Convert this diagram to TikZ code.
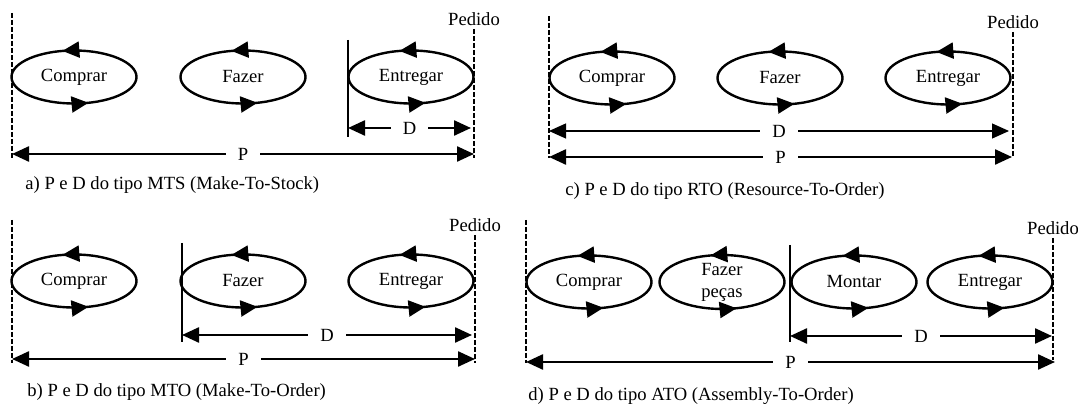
\documentclass[tikz,border=0pt]{standalone}
\usepackage{fontspec}
\setmainfont{Liberation Serif}
\usepackage{tikz}
\usetikzlibrary{arrows.meta, shapes.geometric, decorations.markings}
\tikzstyle{process}  = [ellipse, draw, line width=1.2pt, minimum width=62.5pt, minimum height=26.5pt, inner sep=0pt, align=center,
                        postaction={decorate},
                        decoration={markings,
                          mark=at position 0.29 with {\arrow{Triangle[length=8.5pt,width=8pt]}},
                          mark=at position 0.80 with {\arrow{Triangle[length=8.5pt,width=8pt]}}}]
\tikzstyle{horizon}  = [line width=1pt, dash pattern=on 2.5pt off 1pt]
\tikzstyle{cut}      = [line width=0.6pt]
\tikzstyle{leadtime} = [line width=1.2pt, {Triangle[length=8.5pt,width=7.5pt]}-{Triangle[length=8.5pt,width=7.5pt]}]
\tikzstyle{thinlead} = [line width=0.6pt, {Triangle[length=8.5pt,width=7.5pt]}-{Triangle[length=8.5pt,width=7.5pt]}]
\tikzstyle{lbl}      = [fill=white, inner xsep=6pt, inner ysep=1pt]
\tikzstyle{pedido}   = [anchor=south, inner sep=1.5pt]
\tikzstyle{caption}  = [anchor=west, inner sep=0pt]

\begin{document}
\begin{tikzpicture}[x=0.5pt, y=-0.5pt, font=\fontsize{9.3}{11}\selectfont]

\useasboundingbox (0,0) rectangle (1078,405);

% a) MTS
\coordinate (aL1) at (12,13);   \coordinate (aL2) at (12,158);
\coordinate (aR1) at (474,29);  \coordinate (aR2) at (474,158);
\draw[horizon] (aL1) -- (aL2);
\draw[horizon] (aR1) -- (aR2);
\node[pedido] (aPed) at (aR1) {Pedido};

\node[process] (aC) at (74,77)  {Comprar};
\node[process] (aF) at (243,77) {Fazer};
\node[process] (aE) at (411,77) {Entregar};

\coordinate (aS1) at (348,40);  \coordinate (aS2) at (348,137);
\draw[cut] (aS1) -- (aS2);

\coordinate (aDl) at (348,128); \coordinate (aDr) at (471,128);
\draw[leadtime] (aDl) -- (aDr) node[lbl,midway] (aD) {D};
\coordinate (aPl) at (12,154);  \coordinate (aPr) at (474,154);
\draw[leadtime] (aPl) -- (aPr) node[lbl,midway] (aP) {P};

\node[caption] (aCap) at (25,185) {a) P e D do tipo MTS (Make-To-Stock)};

% c) RTO
\coordinate (cL1) at (549,16);  \coordinate (cL2) at (549,158);
\coordinate (cR1) at (1013,32); \coordinate (cR2) at (1013,158);
\draw[horizon] (cL1) -- (cL2);
\draw[horizon] (cR1) -- (cR2);
\node[pedido] (cPed) at (cR1) {Pedido};

\node[process] (cC) at (612,78) {Comprar};
\node[process] (cF) at (780,78) {Fazer};
\node[process] (cE) at (948,78) {Entregar};

\coordinate (cDl) at (549,131); \coordinate (cDr) at (1009,131);
\draw[thinlead] (cDl) -- (cDr) node[lbl,midway] (cD) {D};
\coordinate (cPl) at (549,157); \coordinate (cPr) at (1012,157);
\draw[leadtime] (cPl) -- (cPr) node[lbl,midway] (cP) {P};

\node[caption] (cCap) at (565,191) {c) P e D do tipo RTO (Resource-To-Order)};

% b) MTO
\coordinate (bL1) at (12,220);  \coordinate (bL2) at (12,363);
\coordinate (bR1) at (475,235); \coordinate (bR2) at (475,363);
\draw[horizon] (bL1) -- (bL2);
\draw[horizon] (bR1) -- (bR2);
\node[pedido] (bPed) at (bR1) {Pedido};

\node[process] (bC) at (74,281)  {Comprar};
\node[process] (bF) at (243,281) {Fazer};
\node[process] (bE) at (411,281) {Entregar};

\coordinate (bS1) at (182,243); \coordinate (bS2) at (182,342);
\draw[cut] (bS1) -- (bS2);

\coordinate (bDl) at (182,335); \coordinate (bDr) at (472,335);
\draw[leadtime] (bDl) -- (bDr) node[lbl,midway] (bD) {D};
\coordinate (bPl) at (12,359);  \coordinate (bPr) at (475,359);
\draw[leadtime] (bPl) -- (bPr) node[lbl,midway] (bP) {P};

\node[caption] (bCap) at (27,392) {b) P e D do tipo MTO (Make-To-Order)};

% d) ATO
\coordinate (dL1) at (526,220);  \coordinate (dL2) at (526,363);
\coordinate (dR1) at (1053,238); \coordinate (dR2) at (1053,360);
\draw[horizon] (dL1) -- (dL2);
\draw[horizon] (dR1) -- (dR2);
\node[pedido] (dPed) at (dR1) {Pedido};

\node[process] (dC) at (589,282) {Comprar};
\node[process] (dF) at (722,282) {Fazer\\peças};
\node[process] (dM) at (854,282) {Montar};
\node[process] (dE) at (990,282) {Entregar};

\coordinate (dS1) at (790,245); \coordinate (dS2) at (790,342);
\draw[cut] (dS1) -- (dS2);

\coordinate (dDl) at (790,336); \coordinate (dDr) at (1052,336);
\draw[leadtime] (dDl) -- (dDr) node[lbl,midway] (dD) {D};
\coordinate (dPl) at (526,362); \coordinate (dPr) at (1055,362);
\draw[leadtime] (dPl) -- (dPr) node[lbl,midway] (dP) {P};

\node[caption] (dCap) at (528,396) {d) P e D do tipo ATO (Assembly-To-Order)};

\end{tikzpicture}
\end{document}
